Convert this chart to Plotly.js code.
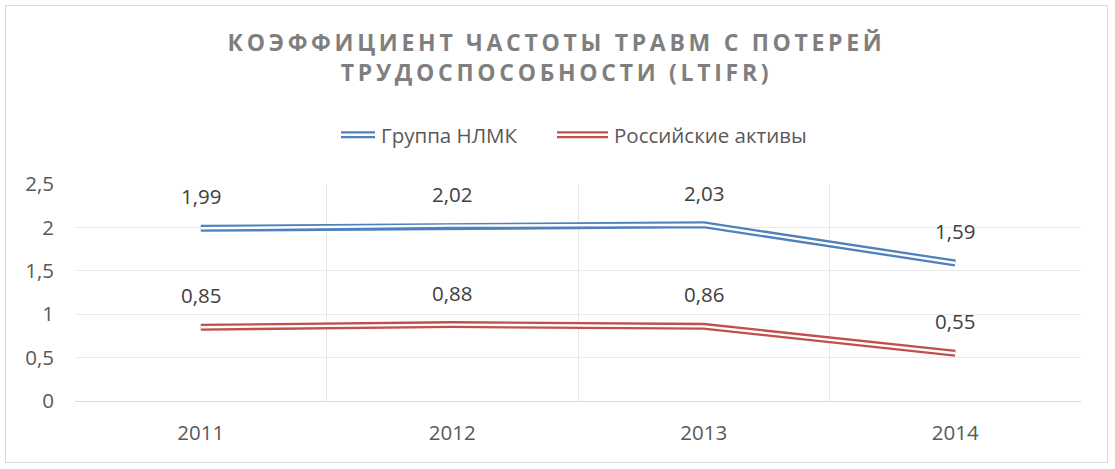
<!DOCTYPE html>
<html>
<head>
<meta charset="utf-8">
<script src="https://cdn.plot.ly/plotly-3.0.1.min.js"></script>
<style>
html, body { margin: 0; padding: 0; background: #fff; width: 1115px; height: 469px; overflow: hidden; }
#frame { position: absolute; left: 5px; top: 5px; width: 1103px; height: 458px; border: 1px solid #d9d9d9; box-sizing: border-box; }
#chart { position: absolute; left: 6px; top: 6px; width: 1101px; height: 456px; }
.gtitle { letter-spacing: 3.7px; }
</style>
</head>
<body>
<div id="frame"></div>
<div id="chart"></div>
<script>
var years = ['2011', '2012', '2013', '2014'];
var groupNLMK = [1.99, 2.02, 2.03, 1.59];
var russianAssets = [0.85, 0.88, 0.86, 0.55];
var seriesNames = ['Группа НЛМК', 'Российские активы'];
var titleText = 'КОЭФФИЦИЕНТ ЧАСТОТЫ ТРАВМ С ПОТЕРЕЙ<br>ТРУДОСПОСОБНОСТИ (LTIFR)';

var blue = '#4F81BD';
var red = '#C0504D';
var font = 'Open Sans, Liberation Sans, sans-serif';
var fs = 20.5;

function fmt(v) { return v.toFixed(2).replace('.', ','); }

function doubleLine(y, name, color) {
  return [
    {x: years, y: y, name: name, type: 'scatter', mode: 'lines',
     line: {color: color, width: 7}, hoverinfo: 'skip'},
    {x: years, y: y, name: name + ' (inner)', type: 'scatter', mode: 'lines',
     line: {color: '#ffffff', width: 2.4}, showlegend: false, hoverinfo: 'skip'}
  ];
}

var data = [].concat(doubleLine(groupNLMK, seriesNames[0], blue),
                     doubleLine(russianAssets, seriesNames[1], red));

var annotations = [];
[groupNLMK, russianAssets].forEach(function (arr) {
  arr.forEach(function (v, i) {
    annotations.push({x: i, y: v, xref: 'x', yref: 'y', text: fmt(v),
      showarrow: false, xanchor: 'center', yanchor: 'middle', yshift: 32,
      font: {family: font, size: fs, color: '#404040'}});
  });
});

var layout = {
  width: 1101, height: 456,
  margin: {l: 69, r: 26, t: 178, b: 61},
  paper_bgcolor: 'rgba(0,0,0,0)', plot_bgcolor: '#ffffff',
  separators: ', ',
  font: {family: font, size: fs, color: '#595959'},
  title: {text: titleText, x: 0.5, xanchor: 'center', y: 0.902, yanchor: 'top',
          font: {family: font, size: 23, color: '#7F7F7F', weight: 'bold'}},
  showlegend: true,
  legend: {orientation: 'h', x: 0.496, xanchor: 'center', y: 1.226, yanchor: 'middle',
           entrywidth: 188, entrywidthmode: 'pixels',
           font: {family: font, size: fs, color: '#595959'}, traceorder: 'normal'},
  xaxis: {type: 'category', range: [-0.5, 3.5], tickson: 'boundaries', showgrid: true,
          gridcolor: '#e6e6e6', gridwidth: 1, ticks: '', showline: true, linecolor: '#d9d9d9',
          ticklabelstandoff: 13, fixedrange: true,
          tickfont: {family: font, size: fs, color: '#595959'}},
  yaxis: {range: [0, 2.5], dtick: 0.5, showgrid: true, gridcolor: '#ebebeb', zeroline: false,
          showline: false, ticks: '', ticklabelstandoff: 20, fixedrange: true,
          tickfont: {family: font, size: fs, color: '#595959'}},
  annotations: annotations
};

Plotly.newPlot('chart', data, layout, {staticPlot: true, displayModeBar: false}).then(function (gd) {
  var paths = gd.querySelectorAll('.legend .legendlines path');
  paths.forEach(function (p) {
    p.setAttribute('d', 'M-17,0h51');
    var c = p.cloneNode(true);
    c.style.stroke = '#ffffff';
    c.style.strokeWidth = '2.4px';
    p.parentNode.appendChild(c);
  });
});
</script>
</body>
</html>
